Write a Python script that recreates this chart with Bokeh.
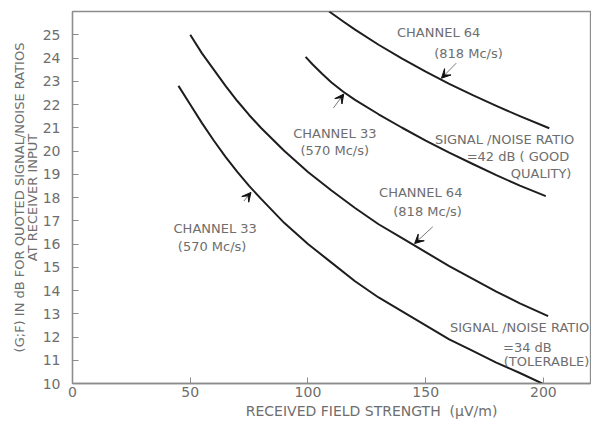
import math
from bokeh.plotting import figure
from bokeh.models import Range1d, Label, Arrow, VeeHead, FixedTicker
from bokeh.embed import file_html
from bokeh.resources import INLINE

# Required (G;F) in dB versus received field strength (uV/m)
# Channel 33 (570 Mc/s), signal/noise 34 dB
ch33_34_x = [45, 50, 55, 60, 65, 70, 75, 80, 90, 100, 110, 120, 130, 140, 150, 160, 170, 180, 190, 199.5]
ch33_34_y = [22.8, 22.0, 21.2, 20.45, 19.75, 19.1, 18.5, 17.95, 16.9, 16.0, 15.2, 14.4, 13.7, 13.1,
             12.5, 11.9, 11.4, 10.9, 10.45, 10.0]
# Channel 64 (818 Mc/s), signal/noise 34 dB
ch64_34_x = [50, 55, 60, 65, 70, 75, 80, 90, 100, 110, 120, 130, 140, 150, 160, 170, 180, 190, 202]
ch64_34_y = [25.0, 24.2, 23.5, 22.8, 22.15, 21.55, 21.0, 20.0, 19.1, 18.3, 17.55, 16.85, 16.25, 15.65,
             15.05, 14.5, 13.95, 13.45, 12.9]
# Channel 33 (570 Mc/s), signal/noise 42 dB
ch33_42_x = [99, 102, 106, 110, 115, 120, 130, 140, 150, 160, 170, 180, 190, 201]
ch33_42_y = [24.05, 23.72, 23.32, 22.95, 22.55, 22.2, 21.58, 21.0, 20.45, 19.93, 19.44, 18.96, 18.51, 18.06]
# Channel 64 (818 Mc/s), signal/noise 42 dB
ch64_42_x = [109, 115, 120, 130, 140, 150, 160, 170, 180, 190, 202.5]
ch64_42_y = [26.0, 25.57, 25.22, 24.57, 23.97, 23.41, 22.89, 22.4, 21.94, 21.5, 20.98]

x_ticks = [0, 50, 100, 150, 200]
y_ticks = list(range(10, 26))

FONT = "DejaVu Sans"
TXT = "#6e6e6e"
FRAME = "#8c8c8c"
CURVE = "#1e1e1e"

p = figure(width=591, height=423, x_range=Range1d(0, 220), y_range=Range1d(10, 26),
           output_backend="svg", toolbar_location=None,
           min_border_left=72, min_border_right=1, min_border_top=11, min_border_bottom=40)
p.background_fill_color = "white"
p.border_fill_color = "white"
p.grid.visible = False
p.outline_line_color = FRAME
p.outline_line_width = 1.3

p.xaxis.ticker = FixedTicker(ticks=x_ticks)
p.yaxis.ticker = FixedTicker(ticks=y_ticks)
for ax in (p.xaxis, p.yaxis):
    ax.axis_line_color = FRAME
    ax.axis_line_width = 1.3
    ax.major_tick_line_color = FRAME
    ax.major_tick_in = 6
    ax.major_tick_out = 0
    ax.minor_tick_line_color = None
    ax.major_label_text_font = FONT
    ax.major_label_text_font_size = "14px"
    ax.major_label_text_color = TXT
    ax.axis_label_text_font = FONT
    ax.axis_label_text_font_style = "normal"
    ax.axis_label_text_color = TXT
p.xaxis.major_label_standoff = 3
p.yaxis.major_label_standoff = 12

# x title sits right of centre: pad it with non-breaking spaces
p.xaxis.axis_label = "\u00a0" * 18 + "RECEIVED FIELD STRENGTH \u00a0(\u03bcV/m)"
p.xaxis.axis_label_text_font_size = "14px"
p.xaxis.axis_label_standoff = 3
p.yaxis.axis_label = "(G;F) IN dB FOR QUOTED SIGNAL/NOISE RATIOS\nAT RECEIVER INPUT"
p.yaxis.axis_label_text_font_size = "13px"
p.yaxis.axis_label_text_line_height = 0.85
p.yaxis.axis_label_standoff = 0

for xs, ys in [(ch33_34_x, ch33_34_y), (ch64_34_x, ch64_34_y),
               (ch33_42_x, ch33_42_y), (ch64_42_x, ch64_42_y)]:
    p.line(xs, ys, line_color=CURVE, line_width=2, line_join="round")


def label(x, y, text, align="center", size="13px"):
    p.add_layout(Label(x=x, y=y, text=text, text_align=align, text_baseline="middle",
                       text_font=FONT, text_font_size=size, text_color=TXT))


def pointer(x0, y0, x1, y1):
    p.add_layout(Arrow(x_start=x0, y_start=y0, x_end=x1, y_end=y1,
                       line_color="#555555", line_width=0.8,
                       end=VeeHead(size=9, fill_color="#111111", line_color="#111111")))


# upper pair (42 dB)
label(155.5, 25.11, "CHANNEL 64")
label(168.2, 24.20, "(818 Mc/s)")
pointer(163.0, 23.78, 156.7, 23.13)
label(111.4, 20.75, "CHANNEL 33")
label(111.4, 20.04, "(570 Mc/s)")
pointer(110.8, 21.85, 115.2, 22.45)
label(213.1, 20.50, "SIGNAL /NOISE RATIO", align="right")
label(211.0, 19.76, "=42 dB ( GOOD", align="right")
label(211.9, 19.03, "QUALITY)", align="right")

# lower pair (34 dB)
label(147.9, 18.21, "CHANNEL 64")
label(150.8, 17.39, "(818 Mc/s)")
pointer(153.0, 16.74, 145.3, 16.02)
label(60.6, 16.66, "CHANNEL 33")
label(59.3, 15.88, "(570 Mc/s)")
pointer(72.8, 17.85, 75.8, 18.22)
label(219.5, 12.39, "SIGNAL /NOISE RATIO", align="right")
label(193.2, 11.53, "=34 dB")
label(219.5, 10.95, "(TOLERABLE)", align="right")

open("out.html", "w").write(file_html(p, INLINE))
